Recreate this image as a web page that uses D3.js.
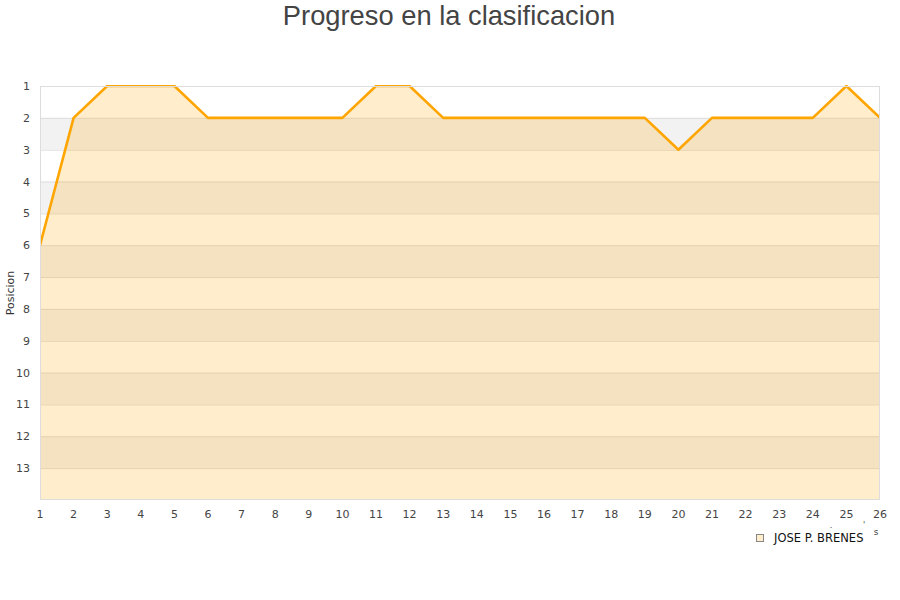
<!DOCTYPE html>
<html><head><meta charset="utf-8">
<script src="https://cdn.jsdelivr.net/npm/d3@7/dist/d3.min.js"></script>
<style>body{margin:0;background:#fff}svg{display:block}</style>
</head><body>
<svg id="c" width="900" height="600"></svg>
<script>
const jornadas = [1,2,3,4,5,6,7,8,9,10,11,12,13,14,15,16,17,18,19,20,21,22,23,24,25,26];
const posiciones = [6,2,1,1,1,2,2,2,2,2,1,1,2,2,2,2,2,2,2,3,2,2,2,2,1,2];
const yTicks = [1,2,3,4,5,6,7,8,9,10,11,12,13];
const seriesName = "JOSE P. BRENES";
const title = "Progreso en la clasificacion";
const yTitle = "Posicion";

const svg = d3.select("#c");
const L = 40, R = 880, T = 86, B = 500;
const x = d3.scaleLinear().domain([1, 26]).range([L, R]);
const y = d3.scaleLinear().domain([1, 14]).range([T, B]);

svg.append("defs").append("clipPath").attr("id","clip")
  .append("rect").attr("x", L).attr("y", T-1).attr("width", R-L).attr("height", B-T+1);

// bands
const bands = d3.range(1, 14);
svg.append("g").selectAll("rect").data(bands).join("rect")
  .attr("x", L).attr("width", R-L)
  .attr("y", d => y(d)).attr("height", d => y(d+1)-y(d))
  .attr("fill", d => d % 2 === 0 ? "#f2f2f2" : "#ffffff");

// grid
svg.append("g").selectAll("line").data(yTicks).join("line")
  .attr("x1", L).attr("x2", R).attr("y1", d => y(d)+0.5).attr("y2", d => y(d)+0.5)
  .attr("stroke", "#dddddd").attr("stroke-width", 1);

const data = jornadas.map((j,i) => ({j, p: posiciones[i]}));
const g = svg.append("g").attr("clip-path","url(#clip)");
g.append("path").datum(data)
  .attr("d", d3.area().x(d => x(d.j)).y0(y(14)).y1(d => y(d.p)))
  .attr("fill", "rgba(255,165,0,0.2)");
g.append("path").datum(data)
  .attr("d", d3.line().x(d => x(d.j)).y(d => y(d.p)))
  .attr("fill", "none").attr("stroke", "#ffa500").attr("stroke-width", 2.6)
  .attr("stroke-linejoin","round");

// border
svg.append("rect").attr("x", L+0.5).attr("y", T+0.5).attr("width", R-L-1).attr("height", B-T-1)
  .attr("fill","none").attr("stroke","#dddddd");

// axes labels
const font = "DejaVu Sans, sans-serif";
svg.append("g").selectAll("text").data(yTicks).join("text")
  .attr("x", 30).attr("y", d => y(d)+4).attr("text-anchor","end")
  .attr("font-family", font).attr("font-size", 11).attr("fill","#444")
  .text(d => d);
svg.append("g").selectAll("text").data(jornadas).join("text")
  .attr("x", d => x(d)).attr("y", 518).attr("text-anchor","middle")
  .attr("font-family", font).attr("font-size", 11).attr("fill","#444")
  .text(d => d);

svg.append("text").attr("transform","translate(14,293) rotate(-90)")
  .attr("text-anchor","middle").attr("font-family", font).attr("font-size", 11).attr("fill","#333")
  .text(yTitle);

svg.append("text").attr("x", 449).attr("y", 25).attr("text-anchor","middle")
  .attr("font-family","Liberation Sans, Arial, sans-serif").attr("font-size", 27.3).attr("fill","#444")
  .text(title);

// truncated axis title remnants
svg.append("text").attr("x", 876).attr("y", 535).attr("text-anchor","middle")
  .attr("font-family", font).attr("font-size", 9).attr("fill","#444").text("s");
svg.append("text").attr("x", 831).attr("y", 528).attr("text-anchor","middle")
  .attr("font-family", font).attr("font-size", 8).attr("fill","#444").text(".");
svg.append("text").attr("x", 864).attr("y", 528).attr("text-anchor","middle")
  .attr("font-family", font).attr("font-size", 8).attr("fill","#444").text("'");

// legend
svg.append("rect").attr("x", 756.5).attr("y", 534.5).attr("width", 7).attr("height", 7)
  .attr("fill","#ffedcc").attr("stroke","#888");
svg.append("text").attr("x", 774).attr("y", 542)
  .attr("font-family", font).attr("font-size", 11.5).attr("fill","#111").text(seriesName);
</script>
</body></html>
